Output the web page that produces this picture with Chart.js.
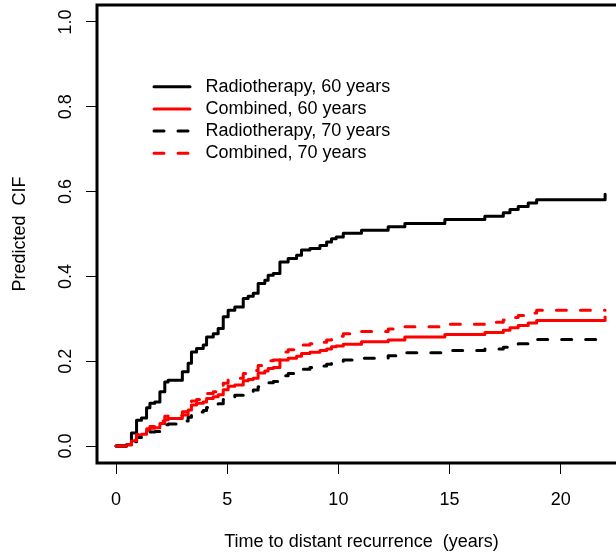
<!DOCTYPE html>
<html>
<head>
<meta charset="utf-8">
<script src="https://cdn.jsdelivr.net/npm/chart.js@4.4.1/dist/chart.umd.min.js"></script>
<style>
  html, body { margin: 0; padding: 0; background: #fff; overflow: hidden; width: 616px; height: 553px; }
  #wrap { position: relative; width: 616px; height: 553px; overflow: hidden; }
  canvas { display: block; }
</style>
</head>
<body>
<div id="wrap"><canvas id="cif" width="640" height="553"></canvas></div>
<script>
// Event times (years) at which the predicted cumulative incidence steps up
const eventTimes = [0, 0.47, 0.69, 0.92, 1.14, 1.37, 1.52, 1.74, 1.97, 2.19,
  2.34, 2.98, 3.24, 3.39, 3.62, 3.92, 4.07, 4.37, 4.59, 4.82,
  5.04, 5.34, 5.72, 5.94, 6.17, 6.39, 6.69, 6.84, 7.07, 7.37,
  7.74, 8.12, 8.34, 8.72, 9.17, 9.47, 9.69, 9.90, 10.22, 11.04,
  12.24, 12.99, 14.79, 16.59, 17.42, 17.72, 18.09, 18.54, 18.92, 22.00];

// Predicted CIF after each event time
const rt60 = [0, .003, .031, .061, .066, .090, .101, .104, .128, .151,
  .155, .175, .195, .222, .230, .238, .257, .265, .277, .305,
  .320, .328, .348, .353, .360, .383, .391, .403, .407, .434,
  .442, .450, .462, .466, .473, .481, .489, .493, .502, .509,
  .517, .525, .534, .542, .550, .558, .565, .573, .581, .594];

const comb60 = [0, .003, .012, .025, .028, .037, .042, .043, .053, .062,
  .065, .073, .085, .097, .101, .104, .112, .116, .121, .133,
  .141, .144, .154, .157, .160, .172, .177, .183, .185, .203,
  .207, .212, .218, .221, .225, .229, .234, .236, .240, .246,
  .250, .257, .263, .268, .273, .279, .284, .290, .296, .304];

const rt70 = [0, .002, .010, .020, .022, .029, .033, .034, .042, .050,
  .052, .059, .068, .075, .080, .084, .091, .095, .100, .110,
  .116, .120, .126, .128, .132, .140, .144, .149, .152, .166,
  .171, .176, .181, .185, .189, .193, .196, .199, .203, .207,
  .213, .220, .225, .229, .233, .237, .241, .246, .251, .251];

const comb70 = [0, .003, .013, .027, .030, .041, .046, .048, .059, .070,
  .072, .081, .094, .106, .110, .114, .124, .128, .134, .148,
  .157, .160, .171, .174, .178, .190, .195, .201, .203, .222,
  .227, .232, .238, .241, .245, .250, .256, .259, .265, .270,
  .276, .281, .287, .292, .297, .303, .308, .314, .320, .320];

const seriesLabels = ['Radiotherapy, 60 years', 'Combined, 60 years',
  'Radiotherapy, 70 years', 'Combined, 70 years'];
const xTickValues = [0, 5, 10, 15, 20];
const yTickValues = [0, 0.2, 0.4, 0.6, 0.8, 1.0];

const FONT = "'Liberation Sans', Arial, Helvetica, sans-serif";
const DASH = [10, 14];

function curve(values) {
  return values.map((v, i) => ({ x: eventTimes[i], y: v }));
}

function lineStyle(color, dashed, order) {
  return {
    borderColor: color,
    backgroundColor: color,
    borderWidth: 3,
    borderDash: dashed ? DASH : [],
    borderCapStyle: 'round',
    borderJoinStyle: 'round',
    stepped: 'before',
    pointRadius: 0,
    fill: false,
    order: order
  };
}

// Box drawn around the plotting region
const framePlugin = {
  id: 'frame',
  afterDatasetsDraw(chart) {
    const { ctx, chartArea: a } = chart;
    ctx.save();
    ctx.strokeStyle = '#000';
    ctx.lineWidth = 3;
    ctx.lineJoin = 'miter';
    ctx.strokeRect(a.left, a.top, a.right - a.left, a.bottom - a.top);
    ctx.restore();
  }
};

// Key inside the plot, without a surrounding box
const keyPlugin = {
  id: 'key',
  afterDraw(chart) {
    const { ctx } = chart;
    const lineX0 = 154, lineX1 = 190, textX = 205.5, rowY0 = 86.7, rowGap = 22.2;
    ctx.save();
    ctx.font = '18px ' + FONT;
    ctx.textBaseline = 'middle';
    ctx.textAlign = 'left';
    chart.data.datasets.forEach((ds, i) => {
      const y = rowY0 + i * rowGap;
      ctx.strokeStyle = ds.borderColor;
      ctx.lineWidth = ds.borderWidth;
      ctx.lineCap = 'round';
      ctx.setLineDash(ds.borderDash || []);
      ctx.beginPath();
      ctx.moveTo(lineX0, y);
      ctx.lineTo(lineX1, y);
      ctx.stroke();
      ctx.setLineDash([]);
      ctx.fillStyle = '#000';
      ctx.fillText(ds.label, textX, y);
    });
    ctx.restore();
  }
};

Chart.defaults.font.family = FONT;
Chart.defaults.font.size = 18;
Chart.defaults.color = '#000';

new Chart(document.getElementById('cif'), {
  type: 'line',
  data: {
    datasets: [
      Object.assign({ label: seriesLabels[0], data: curve(rt60) }, lineStyle('#000000', false, 3)),
      Object.assign({ label: seriesLabels[1], data: curve(comb60) }, lineStyle('#ff0000', false, 2)),
      Object.assign({ label: seriesLabels[2], data: curve(rt70) }, lineStyle('#000000', true, 1)),
      Object.assign({ label: seriesLabels[3], data: curve(comb70) }, lineStyle('#ff0000', true, 0))
    ]
  },
  options: {
    responsive: false,
    animation: false,
    devicePixelRatio: 1,
    layout: { padding: { left: 0, top: 5, right: 14, bottom: 0 } },
    plugins: { legend: { display: false }, tooltip: { enabled: false } },
    scales: {
      x: {
        type: 'linear',
        min: -0.86,
        max: 22.94,
        afterBuildTicks(scale) { scale.ticks = xTickValues.map(v => ({ value: v })); },
        afterFit(scale) {
          scale.height = 90;
          scale.paddingLeft = 0;
          scale.paddingRight = 0;
        },
        ticks: {
          autoSkip: false, maxRotation: 0, minRotation: 0, padding: 15,
          font: { size: 18 }, color: '#000',
          callback: v => String(v)
        },
        grid: { drawOnChartArea: false, drawTicks: true, tickLength: 11, color: '#000', lineWidth: 1 },
        border: { display: false },
        title: {
          display: true,
          text: 'Time to distant recurrence  (years)',
          font: { size: 18 }, color: '#000',
          padding: { top: 0, bottom: 0 }
        }
      },
      y: {
        type: 'linear',
        min: -0.04,
        max: 1.04,
        afterBuildTicks(scale) { scale.ticks = yTickValues.map(v => ({ value: v })); },
        afterFit(scale) {
          scale.width = 97;
          scale.paddingTop = 0;
          scale.paddingBottom = 0;
        },
        ticks: {
          autoSkip: false, minRotation: 90, maxRotation: 90, crossAlign: 'center', padding: 7,
          font: { size: 18 }, color: '#000',
          callback: v => Number(v).toFixed(1)
        },
        grid: { drawOnChartArea: false, drawTicks: true, tickLength: 11, color: '#000', lineWidth: 1 },
        border: { display: false },
        title: {
          display: true,
          text: 'Predicted  CIF',
          font: { size: 18 }, color: '#000',
          padding: { top: 9, bottom: 0 }
        }
      }
    }
  },
  plugins: [framePlugin, keyPlugin]
});
</script>
</body>
</html>
